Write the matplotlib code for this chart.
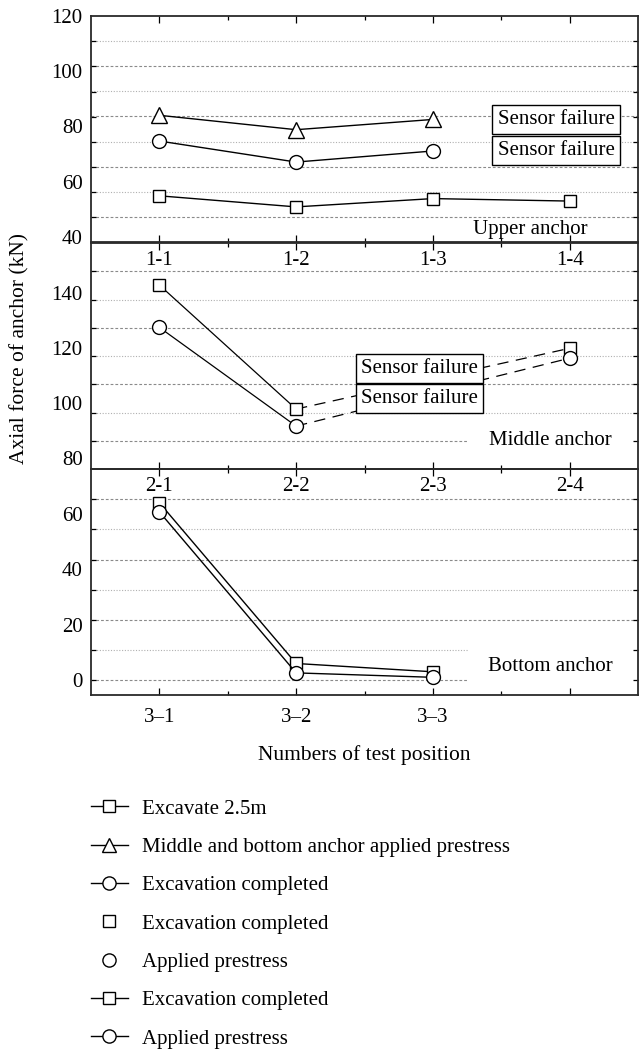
import matplotlib
matplotlib.use('Agg')
import matplotlib.pyplot as plt
from matplotlib.lines import Line2D

plt.rcParams['font.family'] = ['Liberation Serif', 'DejaVu Serif']
plt.rcParams['font.size'] = 15

# === DATA ===
positions = [1, 2, 3, 4]
upper_labels = ['1-1', '1-2', '1-3', '1-4']
middle_labels = ['2-1', '2-2', '2-3', '2-4']
bottom_labels = ['3–1', '3–2', '3–3', '']

upper_excavate = [54.9, 50.9, 53.9, 53.0]          # 1-1 .. 1-4
upper_mb_prestress = [84.0, 78.8, 82.5]            # 1-1 .. 1-3
upper_completed = [74.7, 67.1, 71.1]               # 1-1 .. 1-3

middle_x = [1, 2, 4]
middle_completed = [142.9, 97.8, 119.9]
middle_prestress = [127.5, 91.6, 116.3]

bottom_x = [1, 2, 3]
bottom_completed = [64.1, 6.0, 3.0]
bottom_prestress = [60.8, 2.6, 1.0]

upper_yticks = [40, 60, 80, 100, 120]
middle_yticks = [80, 100, 120, 140]
bottom_yticks = [0, 20, 40, 60]

# === FIGURE ===
fig = plt.figure(figsize=(6.43, 10.51), dpi=100)
W, H = 643.0, 1051.0
left, right = 91 / W, 638 / W


def make_axes(top_px, bottom_px):
    return fig.add_axes([left, 1 - bottom_px / H, right - left, (bottom_px - top_px) / H])


ax_up = make_axes(15.7, 242.3)
ax_mid = make_axes(243, 469)
ax_bot = make_axes(469, 695.3)

mk = dict(color='black', lw=1.0, markerfacecolor='white', markeredgecolor='black', markeredgewidth=1.0)


def style_panel(ax, ylim, yticks, grid_fracs, short_fracs, xlabels, pad):
    ax.set_facecolor('none')
    ax.set_xlim(0.5, 4.5)
    ax.set_ylim(*ylim)
    lo, hi = ylim
    # grid lines (decorative, evenly spaced in the panel)
    for i, f in enumerate(grid_fracs):
        xmax = 0.69 if f in short_fracs else 1.0
        ls = (0, (2.5, 1.8)) if i % 2 == 0 else (0, (1, 1.5))
        col = '#8a8a8a' if i % 2 == 0 else '#b0b0b0'
        ax.plot([0, xmax], [f, f], transform=ax.transAxes, color=col, lw=0.8, ls=ls, zorder=0)
    ax.set_yticks(yticks)
    ax.set_yticks([lo + f * (hi - lo) for f in grid_fracs], minor=True)
    ax.tick_params(axis='y', which='major', length=0, pad=6, labelsize=15)
    ax.tick_params(axis='y', which='minor', length=3.5, width=0.9, direction='in', left=True, right=True)
    ax.set_xticks(positions)
    ax.set_xticklabels(xlabels)
    ax.set_xticks([1.5, 2.5, 3.5], minor=True)
    ax.tick_params(axis='x', which='major', length=5, width=0.9, direction='in', top=True, bottom=True,
                   pad=pad, labelsize=15)
    ax.tick_params(axis='x', which='minor', length=3, width=0.9, direction='in', top=True, bottom=True)
    for s in ax.spines.values():
        s.set_linewidth(1.3)
        s.set_color('#2a2a2a')


style_panel(ax_up, (38.1, 119.8), upper_yticks, [k / 9 for k in range(1, 9)], [], upper_labels, 6)
style_panel(ax_mid, (76.0, 158.2), middle_yticks, [k / 8 for k in range(1, 8)], [1 / 8], middle_labels, 6)
bot_fracs = [1 - j * 30.2 / 226.3 for j in range(1, 8)]
style_panel(ax_bot, (-5.5, 76.3), bottom_yticks, bot_fracs, bot_fracs[-2:], bottom_labels, 9)

# === UPPER ANCHOR ===
ax_up.plot(positions, upper_excavate, marker='s', ms=8.8, zorder=3, **mk)
ax_up.plot(positions[:3], upper_mb_prestress, marker='^', ms=11, zorder=3, **mk)
ax_up.plot(positions[:3], upper_completed, marker='o', ms=10, zorder=3, **mk)

box = dict(boxstyle='square,pad=0.25', facecolor='white', edgecolor='black', linewidth=1.0)
ax_up.text(3.9, 82.4, 'Sensor failure', ha='center', va='center', fontsize=15, bbox=box, zorder=5)
ax_up.text(3.9, 71.3, 'Sensor failure', ha='center', va='center', fontsize=15, bbox=box, zorder=5)
ax_up.text(0.803, 0.057, 'Upper anchor', transform=ax_up.transAxes, ha='center', va='center', fontsize=15)

# === MIDDLE ANCHOR ===
dash = (0, (9, 6))
ax_mid.plot(middle_x[:2], middle_completed[:2], color='black', lw=0.9, zorder=2)
ax_mid.plot(middle_x[1:], middle_completed[1:], color='black', lw=0.9, ls=dash, zorder=2)
ax_mid.plot(middle_x[:2], middle_prestress[:2], color='black', lw=0.9, zorder=2)
ax_mid.plot(middle_x[1:], middle_prestress[1:], color='black', lw=0.9, ls=dash, zorder=2)
ax_mid.plot(middle_x, middle_completed, ls='none', marker='s', ms=8.8, zorder=3, **mk)
ax_mid.plot(middle_x, middle_prestress, ls='none', marker='o', ms=10, zorder=3, **mk)
ax_mid.text(2.9, 112.5, 'Sensor failure', ha='center', va='center', fontsize=15, bbox=box, zorder=5)
ax_mid.text(2.9, 101.6, 'Sensor failure', ha='center', va='center', fontsize=15, bbox=box, zorder=5)
ax_mid.text(0.84, 0.124, 'Middle anchor', transform=ax_mid.transAxes, ha='center', va='center', fontsize=15)

# === BOTTOM ANCHOR ===
ax_bot.plot(bottom_x, bottom_completed, marker='s', ms=8.8, zorder=3, **mk)
ax_bot.plot(bottom_x, bottom_prestress, marker='o', ms=10, zorder=3, **mk)
ax_bot.text(0.84, 0.126, 'Bottom anchor', transform=ax_bot.transAxes, ha='center', va='center', fontsize=15)

# === AXIS TITLES ===
fig.text(20 / W, 1 - 348 / H, 'Axial force of anchor (kN)', rotation=90, ha='center', va='center', fontsize=15.5)
fig.text(364.5 / W, 1 - 755 / H, 'Numbers of test position', ha='center', va='center', fontsize=15.5)

# === LEGEND ===
def handle(marker, line=True, ms=8.8):
    return Line2D([0], [0], color='black', lw=1.0 if line else 0, marker=marker, ms=ms,
                  markerfacecolor='white', markeredgecolor='black', markeredgewidth=1.0)


handles = [
    handle('s'),
    handle('^', ms=10.5),
    handle('o', ms=9.5),
    handle('s', line=False),
    handle('o', line=False, ms=9.5),
    handle('s'),
    handle('o', ms=9.5),
]
labels = [
    'Excavate 2.5m',
    'Middle and bottom anchor applied prestress',
    'Excavation completed',
    'Excavation completed',
    'Applied prestress',
    'Excavation completed',
    'Applied prestress',
]
fig.legend(handles, labels, loc='upper left', bbox_to_anchor=(90.7 / W, 1 - 799 / H), frameon=False,
           fontsize=15, handlelength=1.8, handletextpad=0.67, labelspacing=0.9, borderpad=0,
           borderaxespad=0)

fig.savefig('out.png', dpi=100)
